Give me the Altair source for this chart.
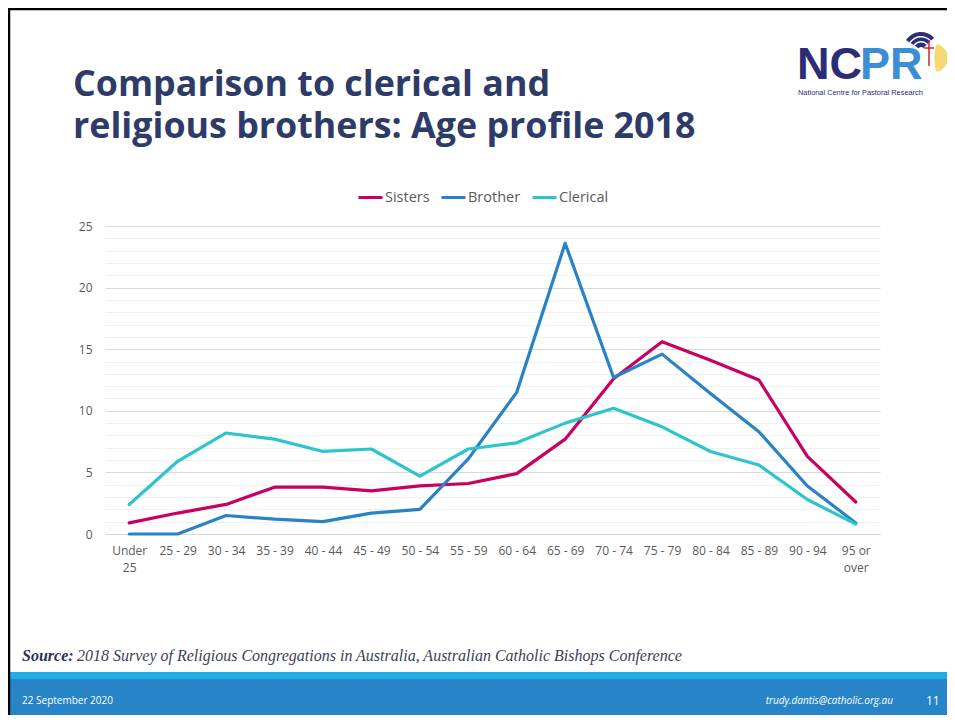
import altair as alt
import pandas as pd

categories = ["Under 25", "25 - 29", "30 - 34", "35 - 39", "40 - 44", "45 - 49",
              "50 - 54", "55 - 59", "60 - 64", "65 - 69", "70 - 74", "75 - 79",
              "80 - 84", "85 - 89", "90 - 94", "95 or over"]
sisters = [0.9, 1.7, 2.4, 3.8, 3.8, 3.5, 3.9, 4.1, 4.9, 7.7, 12.6, 15.6, 14.1, 12.5, 6.3, 2.6]
brother = [0.0, 0.0, 1.5, 1.2, 1.0, 1.7, 2.0, 6.1, 11.5, 23.6, 12.7, 14.6, 11.4, 8.3, 3.9, 0.9]
clerical = [2.4, 5.9, 8.2, 7.7, 6.7, 6.9, 4.7, 6.9, 7.4, 9.0, 10.2, 8.7, 6.7, 5.6, 2.8, 0.8]
series_names = ["Sisters", "Brother", "Clerical"]
series_colors = ["#C8005F", "#2A82C6", "#2DC5CC"]

title_lines = ["Comparison to clerical and", "religious brothers: Age profile 2018"]
source_label = "Source:"
source_text = "2018 Survey of Religious Congregations in Australia, Australian Catholic Bishops Conference"
footer_date = "22 September 2020"
footer_email = "trudy.dantis@catholic.org.au"
footer_page = "11"

rows = []
for name, vals in zip(series_names, [sisters, brother, clerical]):
    for c, v in zip(categories, vals):
        rows.append({"age": c, "series": name, "value": v})
df = pd.DataFrame(rows)

# page -> plot coordinates: plot origin at page (105, 226)
OX, OY = 105, 226
W, H = 775, 308
PAD_L, PAD_T = OX - 8, OY - 8
TOTAL_W, TOTAL_H = 939, 707

one = pd.DataFrame({"k": [0]})


def txt(text, px, py, size, color, font="Open Sans", weight="normal", style="normal",
        align="left", baseline="alphabetic", line_height=None):
    kw = dict(text=text, font=font, fontSize=size, fontWeight=weight, fontStyle=style,
              color=color, align=align, baseline=baseline)
    if line_height is not None:
        kw["lineHeight"] = line_height
    return alt.Chart(one).mark_text(**kw).encode(x=alt.value(px - OX), y=alt.value(py - OY))


def rect(x1, y1, x2, y2, color):
    return alt.Chart(one).mark_rect(color=color).encode(
        x=alt.value(x1 - OX), x2=alt.value(x2 - OX),
        y=alt.value(y1 - OY), y2=alt.value(y2 - OY))


def arc(cx, cy, r1, r2, t1, t2, color, opacity=1.0):
    return alt.Chart(one).mark_arc(color=color, opacity=opacity).encode(
        x=alt.value(cx - OX), y=alt.value(cy - OY), theta=alt.value(t1), theta2=alt.value(t2),
        radius=alt.value(r1), radius2=alt.value(r2))


label_expr = ("datum.value == 'Under 25' ? ['Under', '25'] : "
              "(datum.value == '95 or over' ? ['95 or', 'over'] : datum.value)")

lines = alt.Chart(df).mark_line(strokeWidth=3.2, strokeCap="round", strokeJoin="round").encode(
    x=alt.X("age:N", sort=categories, scale=alt.Scale(type="point", padding=0.5),
            axis=alt.Axis(title=None, labelAngle=0, ticks=False, grid=False,
                          domainColor="#D9D9D9", labelExpr=label_expr,
                          labelFont="Open Sans", labelFontSize=12, labelColor="#595959",
                          labelPadding=11, labelLineHeight=17, labelOverlap=False)),
    y=alt.Y("value:Q", scale=alt.Scale(domain=[0, 25], nice=False, zero=True),
            axis=alt.Axis(title=None, values=list(range(26)), ticks=False, domain=False,
                          gridColor={"condition": {"test": "datum.value % 5 === 0", "value": "#D9D9D9"},
                                     "value": "#F0F0F0"},
                          labelExpr="datum.value % 5 === 0 ? datum.label : ''",
                          labelOverlap=False, labelFont="Open Sans", labelFontSize=12,
                          labelColor="#595959", labelPadding=13)),
    color=alt.Color("series:N", scale=alt.Scale(domain=series_names, range=series_colors),
                    legend=alt.Legend(title=None, orient="none", legendX=357 - OX, legendY=184 - OY,
                                      direction="horizontal", symbolType="stroke",
                                      symbolStrokeWidth=3, symbolSize=576,
                                      labelFont="Open Sans", labelFontSize=14.5,
                                      labelColor="#595959", labelOffset=1, columnPadding=5)),
    order=alt.Order("series:N")
)

navy = "#2E3B68"
layers = [
    # footer bands
    rect(0, 672, 960, 679, "#1FAEE3"),
    rect(0, 679, 960, 730, "#2784C6"),
    # slide frame
    alt.Chart(one).mark_rule(color="#000000", strokeWidth=2.5).encode(
        x=alt.value(9 - OX), y=alt.value(8 - OY), y2=alt.value(730 - OY)),
    alt.Chart(one).mark_rule(color="#000000", strokeWidth=2.5).encode(
        x=alt.value(8 - OX), x2=alt.value(960 - OX), y=alt.value(9 - OY)),
    lines,
    txt(title_lines, 73, 96, 35.8, navy, weight="bold", line_height=42),
    txt(source_label, 22, 661, 16, "#2B3157", font="Liberation Serif", weight="bold", style="italic"),
    txt(source_text, 77, 661, 16, "#3B3F55", font="Liberation Serif", style="italic"),
    txt(footer_date, 22, 704, 10, "#FFFFFF"),
    txt(footer_email, 893, 704, 10, "#FFFFFF", style="italic", align="right"),
    txt(footer_page, 926, 705, 12, "#FFFFFF"),
    # logo
    arc(934, 58, 14, 0, 0.15, 3.0, "#F3D35A", 0.85),
    arc(921, 50, 18, 3, 5.3, 7.1, "#2B2D77"),
    arc(921, 50, 9, 7.5, 5.3, 7.1, "#FFFFFF"),
    arc(921, 50, 14, 12.5, 5.3, 7.1, "#FFFFFF"),
    alt.Chart(one).mark_rule(color="#D02030", strokeWidth=1.5).encode(
        x=alt.value(929 - OX), y=alt.value(40 - OY), y2=alt.value(66 - OY)),
    alt.Chart(one).mark_rule(color="#D02030", strokeWidth=1.5).encode(
        x=alt.value(924 - OX), x2=alt.value(934 - OX), y=alt.value(48 - OY)),
    txt("NC", 797, 79, 45, "#2B2D77", font="Liberation Sans", weight="bold"),
    txt("PR", 860, 79, 45, "#3B8DD6", font="Liberation Sans", weight="bold"),
    txt("National Centre for Pastoral Research", 798, 89, 7.4, "#2B2D77", font="Liberation Sans",
        baseline="top"),
]

chart = alt.layer(*layers).properties(
    width=W, height=H,
    autosize=alt.AutoSizeParams(type="none"),
    padding={"left": PAD_L, "top": PAD_T, "right": TOTAL_W - PAD_L - W, "bottom": TOTAL_H - PAD_T - H},
    background="#FFFFFF"
).configure_view(stroke=None)

chart.save("out.html", embed_options={"renderer": "svg", "actions": False})
